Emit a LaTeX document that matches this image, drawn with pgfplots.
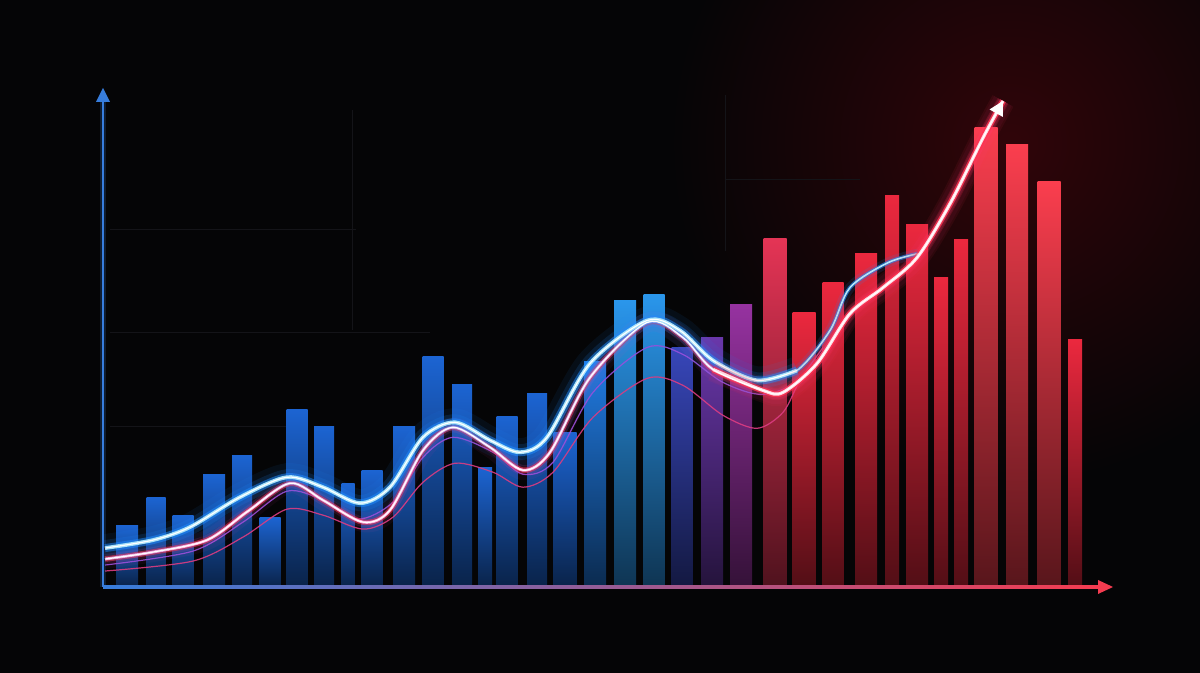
\documentclass[border=0pt]{standalone}
\usepackage{pgfplots}
\pgfplotsset{compat=1.18}
\usepackage{pgfplotstable}
\usetikzlibrary{arrows.meta}
\definecolor{bg}{RGB}{5,5,6}
\definecolor{gridc}{RGB}{20,20,24}
\definecolor{b1}{RGB}{28,100,210}
\definecolor{b2}{RGB}{32,122,225}
\definecolor{b3}{RGB}{42,150,235}
\definecolor{b4}{RGB}{55,70,185}
\definecolor{b5}{RGB}{105,55,170}
\definecolor{b6}{RGB}{150,50,160}
\definecolor{r1}{RGB}{228,52,85}
\definecolor{r2}{RGB}{235,40,62}
\definecolor{r3}{RGB}{250,62,78}
\definecolor{yax}{RGB}{55,125,220}
\definecolor{xr}{RGB}{245,60,80}
\definecolor{xm}{RGB}{175,65,170}
\definecolor{glowb}{RGB}{30,140,255}
\definecolor{glowp}{RGB}{255,70,170}
\definecolor{glowr}{RGB}{255,50,80}
\definecolor{corep}{RGB}{255,170,220}
\definecolor{corer}{RGB}{255,215,225}
\definecolor{thinv}{RGB}{150,80,220}
\definecolor{thinr}{RGB}{220,60,130}

\pgfplotstableread{
x y
0.2 3.9
5 4.7
8.7 6.0
13.7 9.0
18.4 11.0
22.0 10.0
25.7 8.4
28.7 10.0
32.0 15.0
35.2 16.5
38.7 14.7
41.7 13.5
44.4 15.0
48.7 22.4
54.4 26.7
57.7 25.7
61.0 22.7
65.4 20.7
69.4 21.7
72.7 25.7
74.7 30.0
78.5 32.5
81.5 33.4
}\curveA

\pgfplotstableread{
x y
0.2 2.8
5 3.5
10.4 4.7
14.5 7.6
18.7 10.4
22.0 8.7
26.0 6.5
28.7 7.7
32.0 13.7
35.0 16.0
38.7 14.0
42.0 11.7
44.7 13.5
48.7 21.0
54.4 26.5
58.0 25.0
61.0 21.8
66.0 19.7
68.0 19.5
71.4 22.4
74.7 27.4
78.0 30.0
81.4 33.0
84.7 38.4
88.0 45.0
90.0 48.7
}\curveB

\pgfplotstableread{
x y
0.2 2.2
9 3.6
14 6.5
18.4 9.6
22 8.7
25.5 6.8
29 8.5
32 13
35 15.0
39 13.5
42 11.3
45 12.5
49 19.5
54.4 24.0
58 23.3
62 20.5
66 19.3
70 21
74 26.5
78 30
}\curveC

\pgfplotstableread{
x y
0.2 1.6
9 2.6
14 5.0
18.4 7.8
22 7.2
26 5.8
29 7.0
32 10.5
35.2 12.4
39 11.5
42 10.0
45 11.5
49 17
54.4 20.9
58 20.2
62 17.2
65.4 15.9
68 17.5
69.7 20.7
72 24
}\curveD

\pgfplotsset{bb/.style 2 args={ybar, bar shift=0pt, bar width=#1, draw=none,
  top color=#2, bottom color=#2!35!black, forget plot}}

\begin{document}
\begin{tikzpicture}
\begin{scope}[x=1pt,y=1pt]
\useasboundingbox (0,0) rectangle (600,336.5);
\fill[bg] (0,0) rectangle (600,336.5);
\shade[inner color={rgb,255:red,48;green,5;blue,9}, outer color=bg] (505,265) circle (170);
\draw[gridc, line width=0.5pt] (55,221.5) -- (178,221.5);
\draw[gridc, line width=0.5pt] (55,170) -- (215,170);
\draw[gridc, line width=0.5pt] (55,123) -- (150,123);
\draw[gridc, line width=0.5pt] (176,281.5) -- (176,171.5);
\draw[gridc, line width=0.5pt] (362.5,289) -- (362.5,211);
\draw[gridc, line width=0.5pt] (362.5,246.5) -- (430,246.5);
\end{scope}

\begin{axis}[at={(51.5pt,43pt)}, anchor=south west, scale only axis,
  width=505pt, height=248.5pt, xmin=0, xmax=101, ymin=0, ymax=49.8,
  hide axis, clip=false]
\addplot[bb={2.2}{b1}] coordinates {(2.4,6.2)};
\addplot[bb={1.9}{b1}] coordinates {(5.3,9.0)};
\addplot[bb={2.1}{b1}] coordinates {(8.0,7.2)};
\addplot[bb={2.2}{b1}] coordinates {(11.1,11.3)};
\addplot[bb={2.0}{b1}] coordinates {(13.9,13.2)};
\addplot[bb={2.1}{b1}] coordinates {(16.7,7.0)};
\addplot[bb={2.1}{b1}] coordinates {(19.4,17.8)};
\addplot[bb={2.0}{b1}] coordinates {(22.1,16.1)};
\addplot[bb={1.3}{b1}] coordinates {(24.5,10.4)};
\addplot[bb={2.1}{b1}] coordinates {(26.9,11.7)};
\addplot[bb={2.2}{b1}] coordinates {(30.1,16.1)};
\addplot[bb={2.1}{b1}] coordinates {(33.0,23.1)};
\addplot[bb={2.0}{b1}] coordinates {(35.9,20.3)};
\addplot[bb={1.4}{b1}] coordinates {(38.2,12.0)};
\addplot[bb={2.1}{b1}] coordinates {(40.4,17.1)};
\addplot[bb={2.0}{b1}] coordinates {(43.4,19.4)};
\addplot[bb={2.3}{b1}] coordinates {(46.2,15.5)};
\addplot[bb={2.2}{b2}] coordinates {(49.2,22.6)};
\addplot[bb={2.2}{b3}] coordinates {(52.2,28.7)};
\addplot[bb={2.1}{b3}] coordinates {(55.1,29.3)};
\addplot[bb={2.1}{b4}] coordinates {(57.9,24.0)};
\addplot[bb={2.2}{b5}] coordinates {(60.9,25.0)};
\addplot[bb={2.2}{b6}] coordinates {(63.8,28.3)};
\addplot[bb={2.3}{r1}] coordinates {(67.2,34.9)};
\addplot[bb={2.3}{r2}] coordinates {(70.1,27.5)};
\addplot[bb={2.1}{r2}] coordinates {(73.0,30.5)};
\addplot[bb={2.2}{r2}] coordinates {(76.3,33.4)};
\addplot[bb={1.4}{r2}] coordinates {(78.9,39.2)};
\addplot[bb={2.2}{r2}] coordinates {(81.4,36.3)};
\addplot[bb={1.4}{r2}] coordinates {(83.8,31.0)};
\addplot[bb={1.4}{r2}] coordinates {(85.8,34.8)};
\addplot[bb={2.3}{r3}] coordinates {(88.3,46.0)};
\addplot[bb={2.2}{r3}] coordinates {(91.4,44.3)};
\addplot[bb={2.3}{r3}] coordinates {(94.6,40.6)};
\addplot[bb={1.4}{r2}] coordinates {(97.2,24.8)};

\addplot[smooth, thinv, line width=0.6pt, opacity=0.9] table {\curveC};
\addplot[smooth, thinr, line width=0.6pt, opacity=0.9] table {\curveD};

% pink curve, left part
\addplot[smooth, glowp, line width=10pt, opacity=0.05] table {\curveB};
\addplot[smooth, glowp, line width=5pt, opacity=0.12] table {\curveB};
\addplot[smooth, glowr, line width=2.8pt, opacity=0.55] table {\curveB};
\addplot[smooth, corep, line width=1.4pt] table {\curveB};

% blue curve: heavy part and thin branch
\addplot[smooth, glowb, line width=5pt, opacity=0.12, restrict x to domain=64:82] table {\curveA};
\addplot[smooth, glowb, line width=2pt, opacity=0.6, restrict x to domain=64:82] table {\curveA};
\addplot[smooth, cyan!30!white, line width=0.8pt, restrict x to domain=64:82] table {\curveA};
\addplot[smooth, glowb, line width=14pt, opacity=0.07, restrict x to domain=0:70] table {\curveA};
\addplot[smooth, glowb, line width=8pt, opacity=0.14, restrict x to domain=0:70] table {\curveA};
\addplot[smooth, glowb, line width=4pt, opacity=0.5, restrict x to domain=0:70] table {\curveA};
\addplot[smooth, cyan!35!white, line width=1.9pt, restrict x to domain=0:70] table {\curveA};
\addplot[smooth, white, line width=0.6pt, restrict x to domain=0:70] table {\curveA};

% pink/red curve, right part on top, with arrow
\addplot[smooth, glowr, line width=12pt, opacity=0.07, restrict x to domain=60:91] table {\curveB};
\addplot[smooth, glowr, line width=6pt, opacity=0.18, restrict x to domain=60:91] table {\curveB};
\addplot[smooth, glowr, line width=3.2pt, opacity=0.6, restrict x to domain=60:91] table {\curveB};
\addplot[smooth, corer, line width=1.6pt, restrict x to domain=60:91] table {\curveB};
\addplot[smooth, white, line width=0.6pt, -{Triangle[length=7pt,width=7.5pt]}] table {\curveB};
\end{axis}

\begin{scope}[x=1pt,y=1pt]
\draw[yax, line width=3pt, opacity=0.2] (51.5,43) -- (51.5,286);
\fill[yax] (50.9,43) rectangle (52.1,286);
\fill[yax] (48,285.5) -- (55,285.5) -- (51.5,292.5) -- cycle;
\shade[left color=yax, middle color=xm, right color=xr] (51.5,42.4) rectangle (550,43.6);
\fill[xr] (549,39.5) -- (549,46.5) -- (556.5,43) -- cycle;
\end{scope}
\end{tikzpicture}
\end{document}
